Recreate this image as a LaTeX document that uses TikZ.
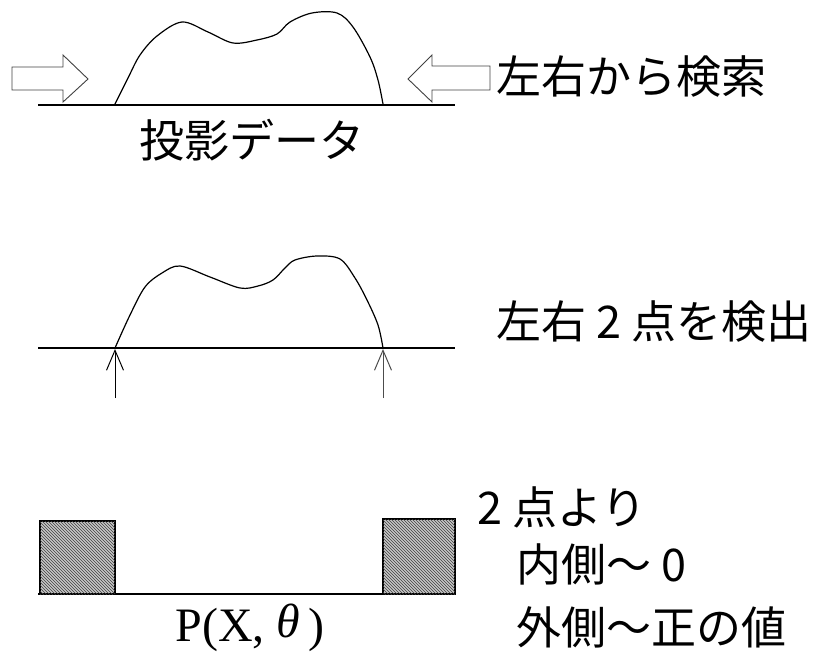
\documentclass[tikz,border=0pt]{standalone}
\usepackage{fontspec}
\setmainfont{Liberation Serif}
\newfontfamily\cjk{Noto Sans CJK JP}
\usetikzlibrary{arrows.meta,patterns}
\tikzset{
  curve/.style={line width=1.2pt, smooth, tension=0.55},
  base/.style={line width=1.1pt},
  blockarrow/.style={draw=black!75, line width=0.9pt},
  hatchbox/.style={draw=black, line width=1.1pt, fill=black!22, postaction={pattern=north west lines, pattern color=black!75}},
  detect/.style={line width=1pt, -{Straight Barb[length=20pt,width=17pt,line width=1pt]}},
  jtext/.style={font=\cjk\fontsize{45}{50}\selectfont, inner sep=0pt, anchor=west},
}
\begin{document}
\begin{tikzpicture}[x=1pt,y=-1pt]
\useasboundingbox (0,0) rectangle (825,656);
% ---------- top panel ----------
\coordinate (b1l) at (38,105);
\coordinate (b1r) at (455,105);
\draw[base] (b1l) -- (b1r);
\draw[curve] plot coordinates {(115,104) (128,78) (140,55) (157,36) (182,22) (208,32) (233,43) (257,40) (277,34) (290,22) (312,13) (337,13) (353,27) (370,57) (378,80) (383,104)};
\draw[blockarrow] (12,67) -- (63,67) -- (63,55) -- (88,79) -- (63,102) -- (63,90) -- (12,90) -- cycle;
\draw[blockarrow] (490,66) -- (432,66) -- (432,55) -- (408,79) -- (432,102) -- (432,90) -- (490,90) -- cycle;
\node[jtext] (t1) at (496,76) {左右から検索};
\node[font=\cjk\fontsize{45}{50}\selectfont, inner sep=0pt] (t2) at (252,140) {投影データ};
% ---------- middle panel ----------
\coordinate (b2l) at (38,348);
\coordinate (b2r) at (455,348);
\draw[base] (b2l) -- (b2r);
\draw[curve] plot coordinates {(115,348) (130,315) (145,287) (162,273) (180,266) (210,277) (240,288) (258,286) (273,280) (285,268) (295,260) (317,256) (340,259) (355,278) (367,300) (378,325) (383,348)};
\coordinate (pl) at (115,349);
\coordinate (pr) at (383,349);
\coordinate (sl) at (115,398);
\coordinate (sr) at (383,398);
\draw[detect] (sl) -- (pl);
\draw[detect, black!70] (sr) -- (pr);
\node[jtext] (t3) at (496,322) {左右 2 点を検出};
% ---------- bottom panel ----------
\coordinate (b3l) at (38,594);
\coordinate (b3r) at (455,594);
\draw[base] (b3l) -- (b3r);
\draw[hatchbox] (40,594) rectangle (115,521);
\draw[hatchbox] (383,594) rectangle (455,519);
\node[font=\fontsize{48}{54}\selectfont, inner sep=0pt] (t4) at (250,628) {P(X, \raisebox{4pt}{\textit{θ}}\,)};
\node[jtext] (t5) at (477,507) {2 点より};
\node[jtext] (t6) at (516,564) {内側～ 0};
\node[jtext] (t7) at (516,627) {外側～正の値};
\end{tikzpicture}
\end{document}
